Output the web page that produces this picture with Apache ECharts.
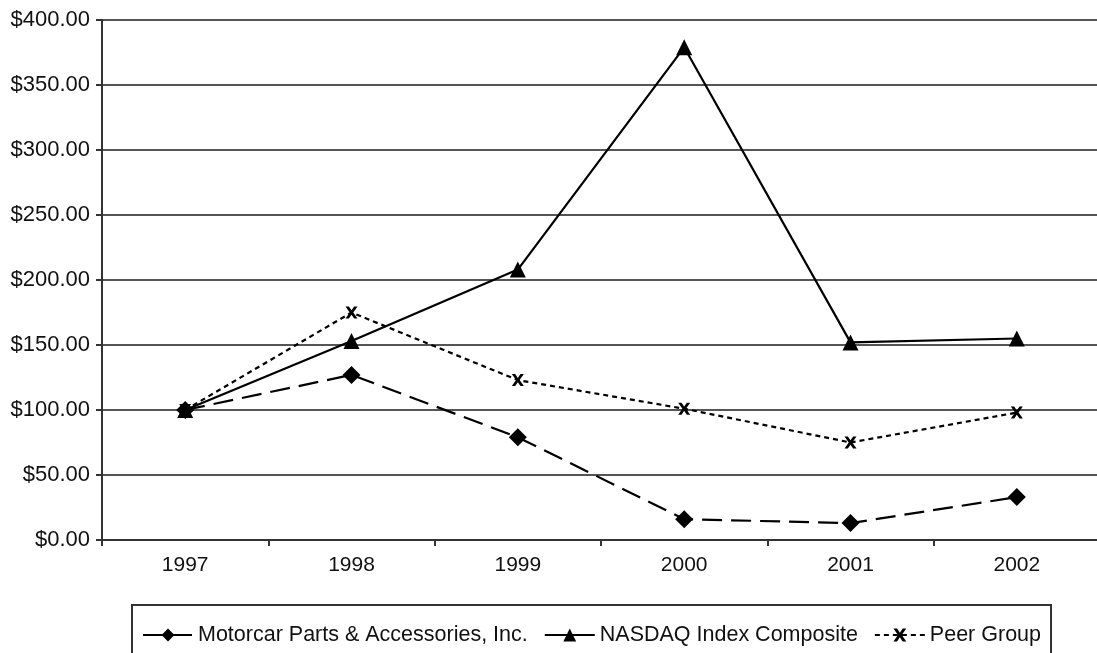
<!DOCTYPE html>
<html><head><meta charset="utf-8">
<script src="https://cdn.jsdelivr.net/npm/echarts@6/dist/echarts.min.js"></script>
<style>html,body{margin:0;padding:0;background:#fff;overflow:hidden;width:1097px;height:653px}#c{width:1100px;height:653px}</style>
</head><body><div id="c"></div>
<script>
const years = ['1997','1998','1999','2000','2001','2002'];
const motorcar = [100, 127, 79, 16, 13, 33];
const nasdaq = [100, 153, 208, 379, 152, 155];
const peer = [100, 175, 123, 101, 75, 98];
const yTicks = [0, 50, 100, 150, 200, 250, 300, 350, 400];

const xPath = 'path://M0,0 L2.8,0 L5,3.2 L7.2,0 L10,0 L6.5,5 L10,10 L7.2,10 L5,6.8 L2.8,10 L0,10 L3.5,5 Z';
const font = 'Liberation Sans, Arial, sans-serif';
const chart = echarts.init(document.getElementById('c'), null, {renderer:'canvas'});
chart.setOption({
  animation: false,
  backgroundColor: '#fff',
  grid: {left: 102, top: 20, right: 0, height: 520, containLabel: false},
  xAxis: {
    type: 'category', data: years, boundaryGap: true,
    axisLine: {lineStyle: {color: '#333', width: 2}},
    axisTick: {show: true, length: 6, inside: false, lineStyle: {color: '#333', width: 2}},
    axisLabel: {color: '#111', fontFamily: font, fontSize: 21, margin: 15},
    splitLine: {show: false}
  },
  yAxis: {
    type: 'value', min: yTicks[0], max: yTicks[yTicks.length-1], interval: 50,
    axisLine: {show: true, lineStyle: {color: '#333', width: 2}},
    axisTick: {show: true, length: 6, lineStyle: {color: '#333', width: 2}},
    axisLabel: {color: '#111', fontFamily: font, fontSize: 22, margin: 12,
      formatter: v => '$' + v.toFixed(2)},
    splitLine: {show: true, lineStyle: {color: '#555', width: 2}}
  },
  legend: {
    left: 132, top: 605, width: 940,
    itemWidth: 50, itemHeight: 16, itemGap: 16,
    padding: [19, 10, 40, 10],
    borderColor: '#333', borderWidth: 2,
    textStyle: {color: '#111', fontFamily: font, fontSize: 21.5},
    data: ['Motorcar Parts & Accessories, Inc.', 'NASDAQ Index Composite', 'Peer Group']
  },
  series: [
    {name: 'Motorcar Parts & Accessories, Inc.', type: 'line', data: motorcar,
     symbol: 'diamond', symbolSize: 18, color: '#000',
     lineStyle: {color: '#000', width: 2.2, type: [20, 9]}, itemStyle: {color: '#000'}},
    {name: 'NASDAQ Index Composite', type: 'line', data: nasdaq,
     symbol: 'triangle', symbolSize: 16, color: '#000',
     lineStyle: {color: '#000', width: 2.2, type: 'solid'}, itemStyle: {color: '#000'}},
    {name: 'Peer Group', type: 'line', data: peer,
     symbol: xPath, symbolSize: 12, color: '#000',
     lineStyle: {color: '#000', width: 2.2, type: [5, 4]}, itemStyle: {color: '#000'}}
  ]
});
</script></body></html>
